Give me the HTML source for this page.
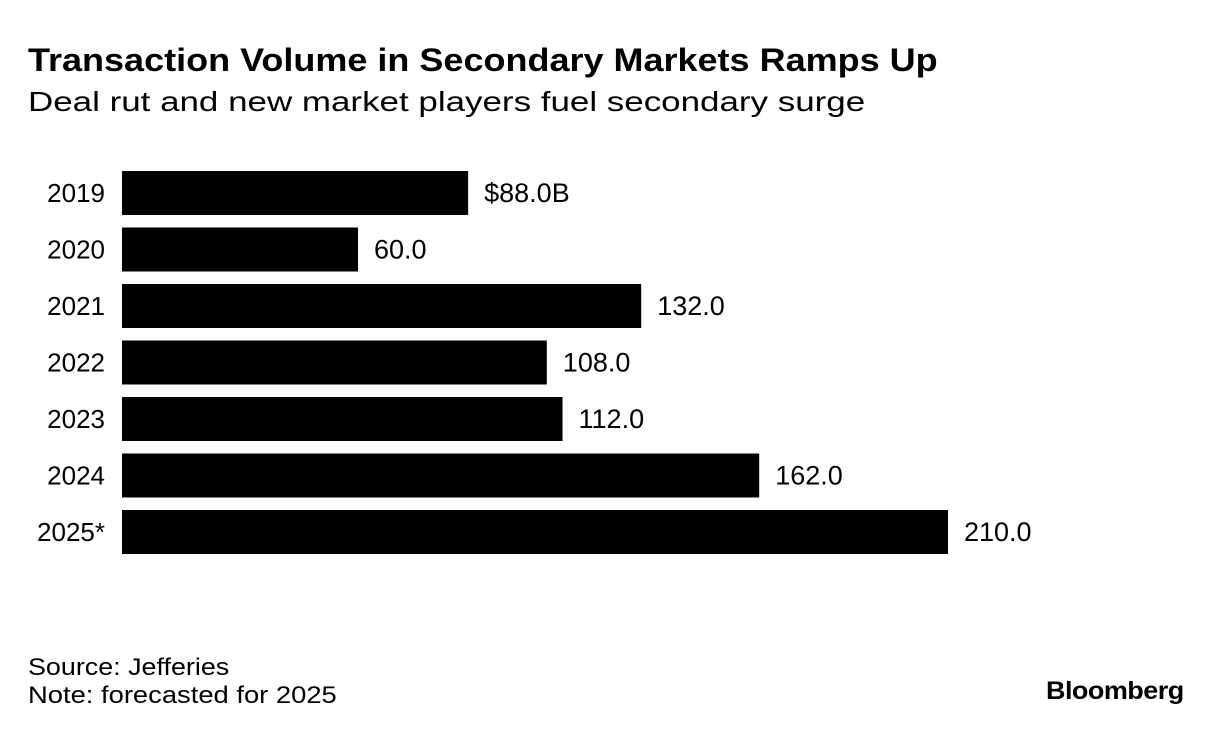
<!DOCTYPE html>
<html><head><meta charset="utf-8">
<style>
body{margin:0;background:#fff;font-family:"Liberation Sans",sans-serif;color:#000;}
#wrap{position:relative;width:1223px;height:736px;overflow:hidden;}
.t{position:absolute;white-space:nowrap;transform-origin:left top;}
</style></head>
<body>
<div id="wrap">
<div class="t" style="left:28px;top:42px;font-size:32px;font-weight:bold;transform:scaleX(1.125);">Transaction Volume in Secondary Markets Ramps Up</div>
<div class="t" style="left:28px;top:86px;font-size:28px;transform:scaleX(1.248);">Deal rut and new market players fuel secondary surge</div>
<svg id="plot" width="1223" height="736" style="position:absolute;left:0;top:0;"></svg>
<div class="t" style="left:28px;top:654px;font-size:24px;transform:scaleX(1.12);">Source: Jefferies</div>
<div class="t" style="left:28px;top:682px;font-size:24px;transform:scaleX(1.14);">Note: forecasted for 2025</div>
<div class="t" style="left:1046px;top:677px;font-size:25px;font-weight:bold;letter-spacing:-0.5px;transform:scaleX(1.08);">Bloomberg</div>
</div>
<script>
const categories=["2019","2020","2021","2022","2023","2024","2025*"];
const values=[88,60,132,108,112,162,210];
const valueLabels=["$88.0B","60.0","132.0","108.0","112.0","162.0","210.0"];
const svg=document.getElementById('plot');
const NS='http://www.w3.org/2000/svg';
const x0=122, scale=(948-122)/210;
function xPos(v){return x0+v*scale;}
function yPos(i){return 171+i*56.5;}
const bh=44;
categories.forEach((c,i)=>{
  const r=document.createElementNS(NS,'rect');
  r.setAttribute('x',x0);r.setAttribute('y',yPos(i));
  r.setAttribute('width',xPos(values[i])-x0);r.setAttribute('height',bh);
  r.setAttribute('fill','#000');
  
  
  svg.appendChild(r);
  const l=document.createElementNS(NS,'text');
  l.setAttribute('x',105);l.setAttribute('y',yPos(i)+bh/2+9);
  l.setAttribute('text-anchor','end');l.setAttribute('font-size','26');
  l.setAttribute('font-family','Liberation Sans, sans-serif');
  l.textContent=c;
  
  
  svg.appendChild(l);
  const v=document.createElementNS(NS,'text');
  v.setAttribute('x',xPos(values[i])+16);v.setAttribute('y',yPos(i)+bh/2+9);
  v.setAttribute('font-size','27');
  v.setAttribute('font-family','Liberation Sans, sans-serif');
  v.textContent=valueLabels[i];
  
  
  svg.appendChild(v);
});
</script>
</body></html>
